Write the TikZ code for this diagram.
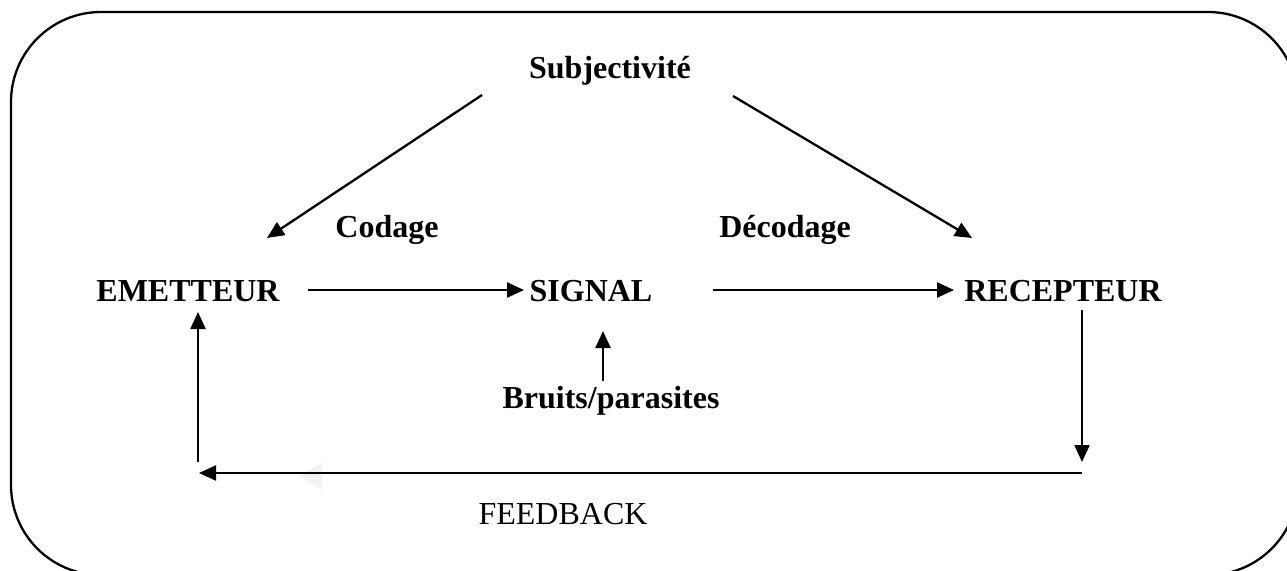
\documentclass[tikz,border=0pt]{standalone}
\usepackage{fontspec}
\setmainfont{Liberation Serif}
\usetikzlibrary{arrows.meta}
\begin{document}
\begin{tikzpicture}[x=1pt,y=-1pt,
  lbl/.style={anchor=base,inner sep=0pt,font=\fontsize{32}{38}\selectfont\bfseries},
  plainlbl/.style={anchor=base,inner sep=0pt,font=\fontsize{32}{38}\selectfont},
  arr/.style={line width=2.3pt,-{Triangle[length=17pt,width=15pt]}},
  frame/.style={line width=2.3pt,rounded corners=90pt}]
\useasboundingbox (0,0) rectangle (1287,570);
\clip (0,0) rectangle (1287,570);
\fill[white] (0,0) rectangle (1287,570);
\draw[frame] (11,12) rectangle (1298,575);

% texts
\node[lbl] (subj) at (610,78) {Subjectivité};
\node[lbl] (cod) at (387,237) {Codage};
\node[lbl] (dec) at (785,237) {Décodage};
\node[lbl] (em) at (188,301) {EMETTEUR};
\node[lbl] (sig) at (591,301) {SIGNAL};
\node[lbl] (rec) at (1063,301) {RECEPTEUR};
\node[lbl] (bru) at (611,408) {Bruits/parasites};
\node[plainlbl] (fb) at (563,524) {FEEDBACK};

% connector end points
\coordinate (subjL) at (482,95);
\coordinate (emTop) at (267,238);
\coordinate (subjR) at (733,96);
\coordinate (recTop) at (972,238);
\coordinate (emR) at (308,290);
\coordinate (sigL) at (524,290);
\coordinate (sigR) at (713,290);
\coordinate (recL) at (954,290);
\coordinate (bruTop) at (603,381);
\coordinate (sigBot) at (603,331);
\coordinate (recBot) at (1082,310);
\coordinate (fbR) at (1082,462);
\coordinate (fbRline) at (1082,473);
\coordinate (fbL) at (199,473);
\coordinate (emBotStart) at (198,462);
\coordinate (emBot) at (198,312);

% faint ghost arrowhead
\fill[black!5] (299,476) -- (322,463) -- (322,490) -- cycle;

\draw[arr] (subjL) -- (emTop);
\draw[arr] (subjR) -- (recTop);
\draw[arr] (emR) -- (sigL);
\draw[arr] (sigR) -- (recL);
\draw[arr] (bruTop) -- (sigBot);
\draw[arr] (recBot) -- (fbR);
\draw[arr] (fbRline) -- (fbL);
\draw[arr] (emBotStart) -- (emBot);
\end{tikzpicture}
\end{document}
